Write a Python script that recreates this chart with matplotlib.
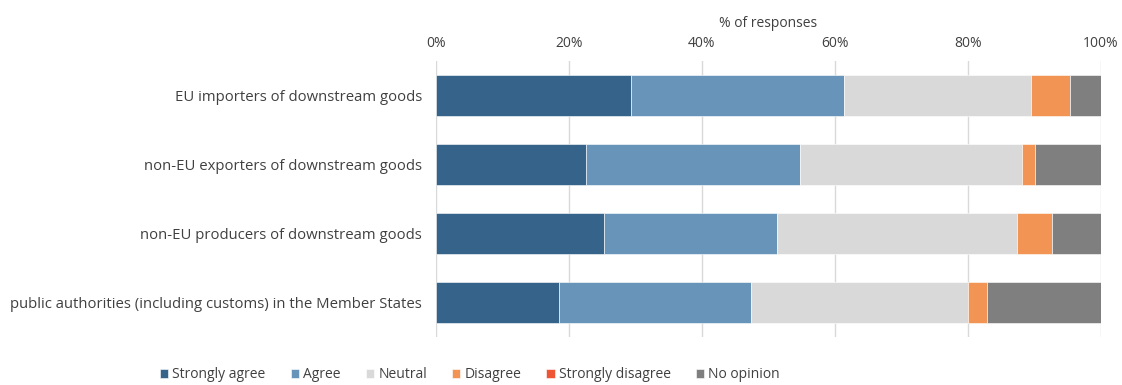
import numpy as np
import matplotlib.pyplot as plt
from matplotlib.ticker import PercentFormatter

plt.rcParams['font.family'] = ['Open Sans', 'DejaVu Sans']

groups = ['EU importers of downstream goods',
          'non-EU exporters of downstream goods',
          'non-EU producers of downstream goods',
          'public authorities (including customs) in the Member States']
categories = ['Strongly agree', 'Agree', 'Neutral', 'Disagree', 'Strongly disagree', 'No opinion']
strongly_agree = [29.3, 22.5, 25.3, 18.5]
agree = [32.1, 32.3, 26.0, 28.8]
neutral = [28.0, 33.3, 36.1, 32.7]
disagree = [6.0, 2.0, 5.3, 2.8]
strongly_disagree = [0.0, 0.0, 0.0, 0.0]
no_opinion = [4.6, 9.9, 7.3, 17.2]
colors = ['#35638A', '#6894BA', '#D9D9D9', '#F29554', '#EE5534', '#7F7F7F']

series = [strongly_agree, agree, neutral, disagree, strongly_disagree, no_opinion]

fig = plt.figure(figsize=(11.22, 3.85), dpi=100)
ax = fig.add_axes([436/1122, 1-337/385, 665/1122, 276/385])

y = np.arange(len(groups))
left = np.zeros(len(groups))
for vals, name, c in zip(series, categories, colors):
    vals = np.array(vals)
    ax.barh(y, vals, left=left, height=0.58, color=c, label=name,
            edgecolor='white', linewidth=0.4, zorder=3)
    left += vals

fs = 10
ax.set_xlim(0, 100)
ax.set_ylim(len(groups)-0.5, -0.5)
ax.set_yticks(y)
ax.set_yticklabels(groups, fontsize=10.7, color='#404040')
ax.xaxis.tick_top()
ax.xaxis.set_label_position('top')
ax.set_xticks(np.arange(0, 101, 20))
ax.xaxis.set_major_formatter(PercentFormatter(decimals=0))
ax.tick_params(axis='x', labelsize=fs, colors='#404040', length=0, pad=7)
ax.tick_params(axis='y', length=0, pad=10)
ax.set_xlabel('% of responses', fontsize=fs, color='#404040', labelpad=7)
ax.grid(axis='x', color='#D9D9D9', linewidth=1, zorder=0)
for s in ax.spines.values():
    s.set_visible(False)

leg = fig.legend(loc='center', bbox_to_anchor=(470/1122, 1-375/385), ncol=6,
                 frameon=False, fontsize=fs, handlelength=0.6, handleheight=0.6,
                 handletextpad=0.3, columnspacing=1.8, labelcolor='#404040')

fig.savefig('out.png', dpi=100)
